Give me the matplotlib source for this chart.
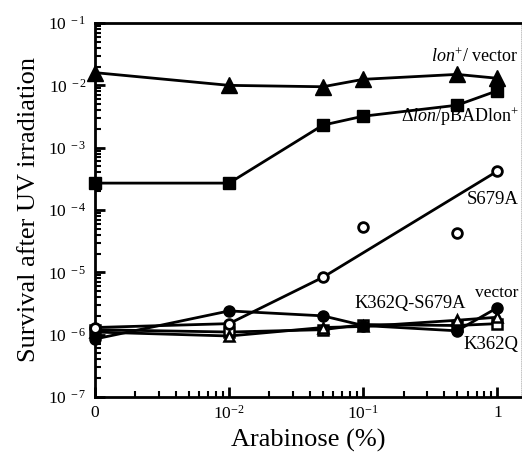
import matplotlib
matplotlib.use("Agg")
import matplotlib.pyplot as plt
from matplotlib.ticker import LogLocator, FixedLocator, FixedFormatter, NullFormatter

plt.rcParams['font.family'] = ['Liberation Serif', 'DejaVu Serif']
plt.rcParams['mathtext.fontset'] = 'custom'
plt.rcParams['mathtext.rm'] = 'Liberation Serif'
plt.rcParams['mathtext.it'] = 'Liberation Serif:italic'

# arabinose (%) -- 0 is drawn at 1e-3 on the log axis
arabinose = [1e-3, 1e-2, 0.05, 0.1, 0.5, 1.0]

lon_vector = [1.6e-2, 1.0e-2, 0.95e-2, 1.25e-2, 1.5e-2, 1.3e-2]
dlon_pbad = [2.7e-4, 2.7e-4, 2.3e-3, 3.2e-3, 4.8e-3, 8.2e-3]
s679a = [1.3e-6, 1.5e-6, 8.3e-6, 5.4e-5, 4.2e-5, 4.2e-4]
s679a_fit_idx = [0, 1, 2, 5]
vector = [8.5e-7, 2.4e-6, 2.0e-6, 1.4e-6, 1.15e-6, 2.7e-6]
k362q_s679a = [1.1e-6, 9.5e-7, 1.3e-6, 1.35e-6, 1.7e-6, 1.9e-6]
k362q = [1.2e-6, 1.1e-6, 1.2e-6, 1.45e-6, 1.4e-6, 1.5e-6]

x_ticks = [1e-3, 1e-2, 1e-1, 1]
x_labels = ["0", r"$10^{-2}$", r"$10^{-1}$", "1"]
y_ticks = [1e-7, 1e-6, 1e-5, 1e-4, 1e-3, 1e-2, 1e-1]
y_labels = [r"$10^{\ -%d}$" % k for k in range(7, 0, -1)]

fig = plt.figure(figsize=(5.22, 4.61), dpi=100)
ax = fig.add_axes([0.182, 0.139, 0.816, 0.811])

lw = 2
kw = dict(color='black', lw=lw, clip_on=False)
ax.plot(arabinose, lon_vector, '-^', ms=11, zorder=3, **kw)
ax.plot(arabinose, dlon_pbad, '-s', ms=9, zorder=3, **kw)
ax.plot(arabinose, k362q, '-s', ms=7, mfc='white', mew=1.8, zorder=3, **kw)
ax.plot(arabinose, k362q_s679a, '-^', ms=7, mfc='white', mew=1.8, zorder=3, **kw)
ax.plot(arabinose, vector, '-o', ms=8, zorder=3, **kw)
ax.plot([arabinose[i] for i in s679a_fit_idx], [s679a[i] for i in s679a_fit_idx],
        '-', zorder=3, **kw)
ax.plot(arabinose, s679a, 'o', color='black', ms=7, mfc='white', mew=2, zorder=4,
        clip_on=False)

ax.set_xscale('log')
ax.set_yscale('log')
ax.set_xlim(1e-3, 1.5)
ax.set_ylim(1e-7, 1e-1)

ax.xaxis.set_major_locator(FixedLocator(x_ticks))
ax.xaxis.set_major_formatter(FixedFormatter(x_labels))
ax.xaxis.set_minor_locator(LogLocator(base=10, subs=range(2, 10)))
ax.xaxis.set_minor_formatter(NullFormatter())
ax.yaxis.set_major_locator(FixedLocator(y_ticks))
ax.yaxis.set_major_formatter(FixedFormatter(y_labels))
ax.yaxis.set_minor_locator(LogLocator(base=10, subs=range(2, 10)))
ax.yaxis.set_minor_formatter(NullFormatter())

ax.tick_params(which='major', direction='in', length=7, width=2, labelsize=12.5,
               top=False, right=False, pad=6)
ax.tick_params(which='minor', direction='in', length=4, width=1.5, top=False, right=False)

for s in ['left', 'bottom', 'top']:
    ax.spines[s].set_linewidth(2)
ax.spines['right'].set_color('#bbbbbb')
ax.spines['right'].set_linewidth(0.6)
ax.spines['right'].set_linestyle(':')

ax.set_xlabel("Arabinose (%)", fontsize=19, labelpad=4)
ax.set_ylabel("Survival after UV irradiation", fontsize=19, labelpad=6)

ax.text(0.995, 0.909, r"$\it{lon}^{+}$/ vector", transform=ax.transAxes,
        ha='right', va='center', fontsize=13)
ax.text(0.995, 0.749, r"$\Delta\it{lon}$/pBADlon$^{+}$", transform=ax.transAxes,
        ha='right', va='center', fontsize=13)
ax.text(0.995, 0.527, "S679A", transform=ax.transAxes,
        ha='right', va='center', fontsize=13.5)
ax.text(0.995, 0.278, "vector", transform=ax.transAxes,
        ha='right', va='center', fontsize=12.5)
ax.text(0.61, 0.249, "K362Q-S679A", transform=ax.transAxes,
        ha='left', va='center', fontsize=13.3)
ax.text(0.995, 0.139, "K362Q", transform=ax.transAxes,
        ha='right', va='center', fontsize=13.5)

fig.savefig("out.png", dpi=100)
